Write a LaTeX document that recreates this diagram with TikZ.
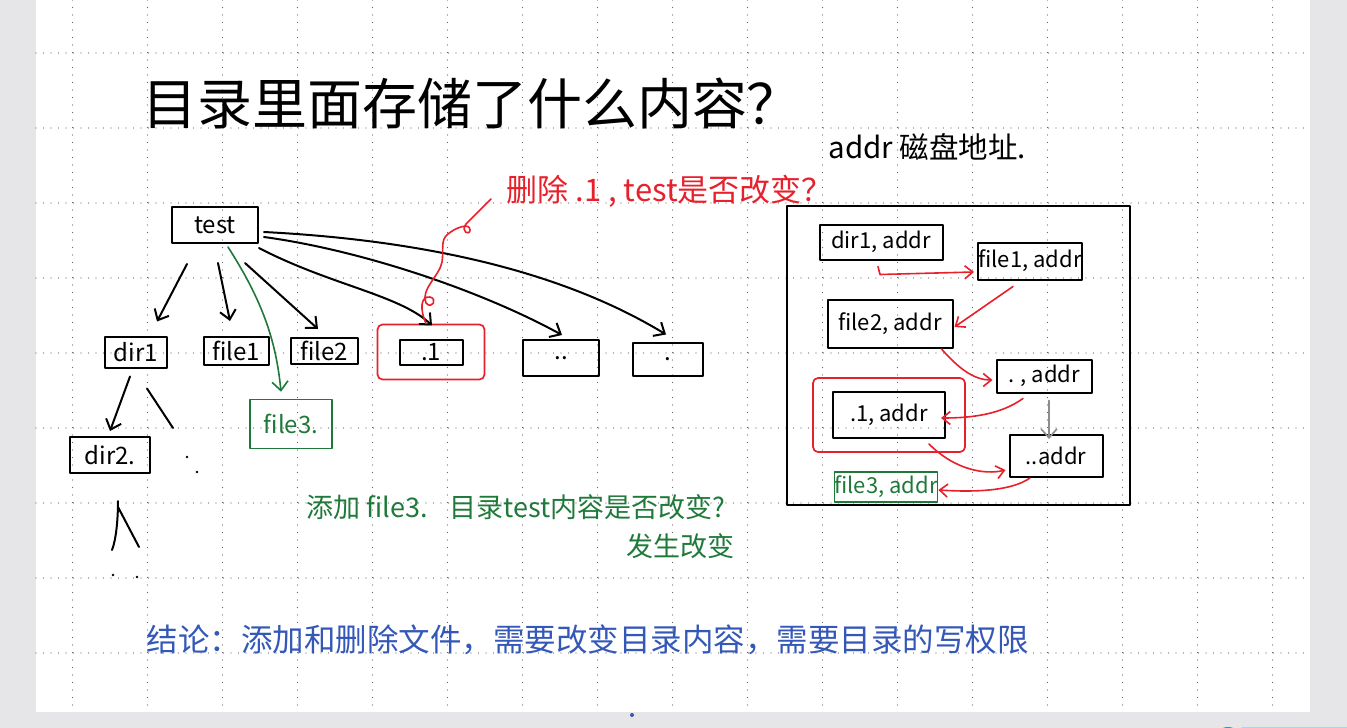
\documentclass[tikz,border=0pt]{standalone}
\usepackage{fontspec}
\setmainfont{Noto Sans CJK SC}
\usetikzlibrary{arrows.meta,positioning,calc,fit}
\definecolor{penred}{HTML}{E8202C}
\definecolor{pengreen}{HTML}{1F7A3A}
\definecolor{penblue}{HTML}{3458B8}
\definecolor{pagegray}{HTML}{E6E6E8}
\definecolor{uiblue}{HTML}{2C8CF4}
\tikzset{
  tbox/.style={draw,line width=2pt,inner sep=0pt,font=\fontsize{24}{24}\selectfont},
  abox/.style={draw,line width=2pt,inner sep=0pt,font=\fontsize{22}{22}\selectfont},
  pen/.style={line width=2pt,-{Straight Barb[length=9pt,width=16pt]}},
  redpen/.style={draw=penred,line width=1.6pt,-{Straight Barb[length=8pt,width=13pt]}},
  redframe/.style={draw=penred,line width=1.7pt,rounded corners=5pt,inner sep=0pt},
  griddots/.style={black!60,line width=1.2pt,dash pattern=on 0pt off 7.5pt,line cap=round},
  every picture/.style={line cap=round,line join=round}
}

\begin{document}
\begin{tikzpicture}[x=1pt,y=-1pt]
  \useasboundingbox (0,0) rectangle (1347,728);
  \fill[pagegray] (0,0) rectangle (1347,728);
  \fill[white] (36,0) rectangle (1310,712);
  % dotted page grid
  \foreach \gx in {0,...,16}
    \draw[griddots] (72.5+75*\gx,0) -- (72.5+75*\gx,712);
  \foreach \gy in {0,...,8}
    \draw[griddots] (36,53+75*\gy) -- (1310,53+75*\gy);

  \node[font=\fontsize{55}{55}\selectfont] (title) at (472,103) {目录里面存储了什么内容？};

  % directory tree
  \node[tbox,minimum width=86pt,minimum height=36pt] (test) at (215,225) {test};
  \node[tbox,minimum width=62pt,minimum height=31pt] (dir1) at (136,352) {dir1};
  \node[tbox,minimum width=65pt,minimum height=28pt] (file1) at (236,351) {file1};
  \node[tbox,minimum width=67pt,minimum height=26pt] (file2) at (324,351) {file2};
  \node[tbox,minimum width=63pt,minimum height=25pt] (dotone) at (431,352) {.1};
  \node[tbox,minimum width=76pt,minimum height=36pt] (ddot) at (561,358) {..};
  \node[tbox,minimum width=70pt,minimum height=33pt] (dot) at (668,359) {.};
  \node[tbox,draw=pengreen,text=pengreen,line width=1.6pt,minimum width=82pt,minimum height=49pt] (file3) at (291,424) {file3.};
  \node[tbox,minimum width=80pt,minimum height=36pt] (dir2) at (110,455) {dir2.};
  \node[redframe,fit=(dotone),inner xsep=21pt,inner ysep=14pt] (dotonering) {};

  \draw[pen] ($(test.south)+(-28,20)$) -- ($(dir1.north)+(21,-14)$);
  \draw[pen] ($(test.south)+(3,19)$) -- ($(file1.north)+(-6,-15)$);
  \draw[pen] ($(test.south)+(30,19)$) -- ($(file2.north)+(-6,-8)$);
  \draw[pen,draw=pengreen,line width=1.6pt] ($(test.south)+(13,3)$) .. controls (262,300) and (276,340) .. ($(file3.north)+(-10,-7)$);
  \draw[pen] ($(test.south east)+(0,4)$) .. controls (330,285) and (400,295) .. ($(dotone.north)+(1,-13)$);
  \draw[pen] ($(test.east)+(5,12)$) .. controls (360,250) and (480,290) .. ($(ddot.north)+(1,-4)$);
  \draw[pen] ($(test.east)+(5,7)$) .. controls (420,240) and (560,270) .. ($(dot.north)+(-2,-7)$);

  \draw[pen] ($(dir1.south)+(-6,8)$) -- ($(dir2.north)+(0,-5)$);
  \coordinate (dirbranch) at (173,428);
  \draw[line width=2pt] ($(dir1.south)+(11,20)$) -- (dirbranch);
  \fill (187,457) circle (1.4pt);
  \fill (197,472) circle (1.4pt);
  \coordinate (lowleft) at (112,550);
  \coordinate (lowright) at (139,547);
  \draw[line width=2pt] ($(dir2.south)+(8,27)$) .. controls (118,520) and (116,540) .. (lowleft);
  \draw[line width=2pt] ($(dir2.south)+(8,33)$) -- (lowright);
  \fill (113,575) circle (1.4pt);
  \fill (137,577) circle (1.4pt);

  % questions
  \node[text=penred,font=\fontsize{31}{31}\selectfont,anchor=west] (delq) at (503,191) {删除 .1 , test是否改变？};
  \draw[draw=penred,line width=1.6pt] ($(dotonering.north)+(-5,0)$) .. controls (420,310) and (420,296) .. (430,297)
    .. controls (438,299) and (432,310) .. (426,303) .. controls (420,290) and (440,275) .. (442,262)
    .. controls (444,250) and (440,240) .. (448,234) .. controls (455,228) and (470,222) .. (470,230)
    .. controls (470,236) and (460,232) .. (466,224) -- ($(delq.west)+(-12,8)$);
  \node[text=pengreen,font=\fontsize{27}{27}\selectfont,anchor=west] (addq) at (303,507) {添加 file3.\hspace{22pt}目录test内容是否改变?};
  \node[text=pengreen,font=\fontsize{27}{27}\selectfont] (addans) at (680,546) {发生改变};

  % directory contents
  \node[font=\fontsize{29.5}{29.5}\selectfont,anchor=west] (addrnote) at (825,147) {addr 磁盘地址.};
  \draw[line width=2pt] (787,206) rectangle (1130,505);
  \node[abox,minimum width=123pt,minimum height=35pt] (dirA) at (881,242) {dir1, addr};
  \node[abox,minimum width=104pt,minimum height=37pt] (fileA) at (1030,261) {file1, addr};
  \node[abox,minimum width=125pt,minimum height=48pt] (fileB) at (890,324) {file2, addr};
  \node[abox,minimum width=95pt,minimum height=33pt] (dotA) at (1044,376) {. , addr};
  \node[abox,minimum width=112pt,minimum height=46pt] (dotoneA) at (889,415) {.1, addr};
  \node[abox,minimum width=93pt,minimum height=42pt] (ddotA) at (1056,456) {..addr};
  \node[abox,draw=pengreen,text=pengreen,line width=1.6pt,minimum width=102pt,minimum height=30pt] (fileC) at (886,487) {file3, addr};
  \node[redframe,fit=(dotoneA),inner xsep=19pt,inner ysep=13pt] (dotoneAring) {};

  \draw[redpen] ($(dirA.south)+(-3,6)$) -- ++(2,8) -- ($(fileA.west)+(-3,11)$);
  \draw[redpen] ($(fileA.south)+(-17,6)$) -- ($(fileB.east)+(1,3)$);
  \draw[redpen] ($(fileB.south east)+(-12,0)$) .. controls (960,370) and (975,380) .. ($(dotA.west)+(-3,4)$);
  \draw[redpen] ($(dotA.south)+(-21,5)$) .. controls (1000,415) and (970,418) .. ($(dotoneA.east)+(-5,3)$);
  \draw[redpen] ($(dotoneA.south east)+(-17,5)$) .. controls (955,470) and (985,475) .. ($(ddotA.west)+(-3,14)$);
  \draw[redpen] ($(ddotA.south)+(-26,0)$) .. controls (1010,492) and (970,492) .. ($(fileC.east)+(0,3)$);
  \draw[pen,draw=black!45,line width=1.6pt] ($(dotA.south)+(5,7)$) -- ($(ddotA.north)+(-7,5)$);

  % conclusion
  \node[text=penblue,font=\fontsize{31.5}{31.5}\selectfont,anchor=west] (concl) at (143,640) {结论：添加和删除文件，需要改变目录内容，需要目录的写权限};

  \fill[penblue] (632,715) circle (2pt);
  \fill[uiblue] (1228,741) circle (14pt);
  \draw[uiblue!40,line width=1pt] (1242,727) -- (1347,727);
\end{tikzpicture}
\end{document}
